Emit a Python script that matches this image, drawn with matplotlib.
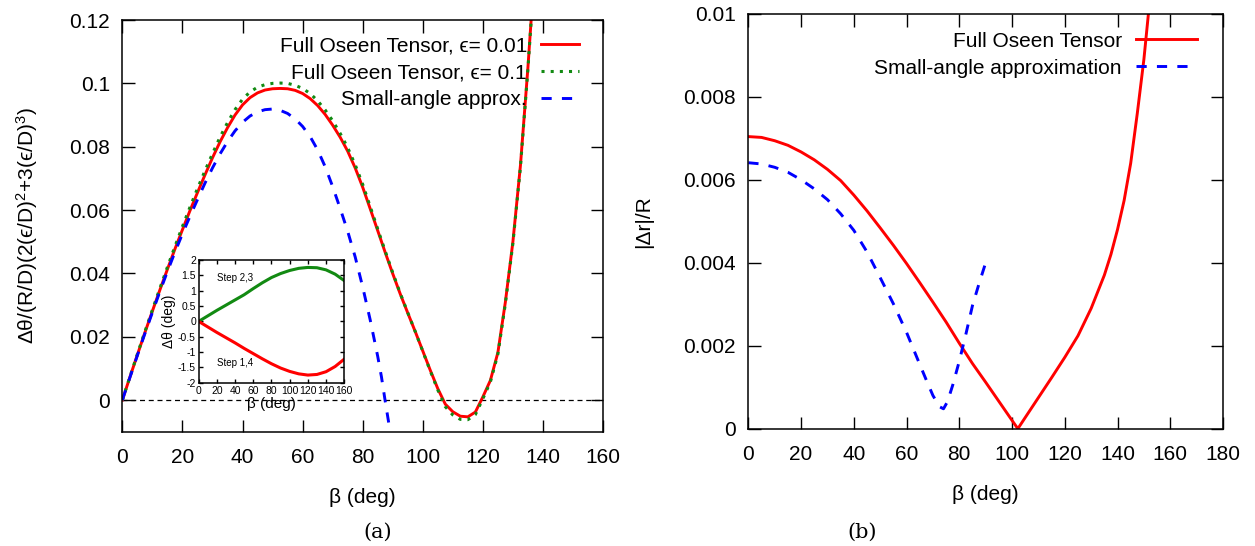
import matplotlib
matplotlib.use("Agg")
import matplotlib.pyplot as plt
from matplotlib.ticker import FuncFormatter, MultipleLocator

plt.rcParams["font.family"] = ["Liberation Sans", "DejaVu Sans"]
plt.rcParams["mathtext.fontset"] = "custom"
plt.rcParams["mathtext.rm"] = "Liberation Sans"
plt.rcParams["mathtext.it"] = "Liberation Sans:italic"

# (a) main panel: normalised rotation vs beta
beta_a = [0, 2.5, 5, 7.5, 10, 12.5, 15, 17.5, 20, 22.5, 25, 27.5, 30, 32.5, 35,
          37.5, 40, 42.5, 45, 47.5, 50, 52.5, 55, 57.5, 60, 62.5, 65, 67.5, 70,
          72.5, 75, 77.5, 80, 82.5, 85, 87.5, 90, 92.5, 95, 97.5, 100, 102.5,
          105, 107.5, 110, 112.5, 115, 117.5, 120, 122.5, 125, 127.5, 130,
          132.5, 135, 137]
full_001 = [0, 0.0072, 0.0143, 0.0213, 0.0281, 0.0348, 0.0413, 0.0477, 0.0538,
            0.0598, 0.0655, 0.0711, 0.0765, 0.0815, 0.0860, 0.0900, 0.0932,
            0.0955, 0.0970, 0.0979, 0.0983, 0.0984, 0.0983, 0.0978, 0.0968,
            0.0952, 0.0930, 0.0902, 0.0868, 0.0830, 0.0786, 0.0733, 0.0672,
            0.0604, 0.0535, 0.0466, 0.0399, 0.0335, 0.0275, 0.0216, 0.0155,
            0.0094, 0.0036, -0.0013, -0.0037, -0.0051, -0.0053, -0.0038,
            0.0010, 0.0062, 0.0150, 0.0310, 0.0500, 0.0740, 0.1050, 0.1330]
full_01 = [0, 0.0073, 0.0145, 0.0216, 0.0285, 0.0353, 0.0420, 0.0485, 0.0548,
           0.0609, 0.0668, 0.0724, 0.0778, 0.0830, 0.0876, 0.0917, 0.0950,
           0.0973, 0.0988, 0.0996, 0.1000, 0.1001, 0.1000, 0.0994, 0.0984,
           0.0968, 0.0945, 0.0916, 0.0882, 0.0842, 0.0797, 0.0743, 0.0681,
           0.0611, 0.0540, 0.0470, 0.0402, 0.0337, 0.0276, 0.0216, 0.0154,
           0.0092, 0.0032, -0.0021, -0.0047, -0.0061, -0.0062, -0.0046,
           0.0004, 0.0057, 0.0145, 0.0305, 0.0495, 0.0735, 0.1045, 0.1325]
beta_sa = [0, 2.5, 5, 7.5, 10, 12.5, 15, 17.5, 20, 22.5, 25, 27.5, 30, 32.5, 35,
           37.5, 40, 42.5, 45, 47.5, 50, 52.5, 55, 57.5, 60, 62.5, 65, 67.5, 70,
           72.5, 75, 77.5, 80, 82.5, 85, 86.25, 87.5, 88.75, 89.5]
small_a = [0, 0.0071, 0.0141, 0.0210, 0.0277, 0.0343, 0.0406, 0.0467, 0.0525,
           0.0580, 0.0633, 0.0685, 0.0733, 0.0777, 0.0816, 0.0850, 0.0877,
           0.0897, 0.0910, 0.0917, 0.0919, 0.0915, 0.0905, 0.0888, 0.0864,
           0.0832, 0.0790, 0.0737, 0.0674, 0.0605, 0.0533, 0.0452, 0.0357,
           0.0253, 0.0138, 0.0073, -0.0004, -0.0077, -0.0110]

# inset: step rotations
beta_in = [0, 10, 20, 30, 40, 50, 60, 70, 80, 90, 100, 110, 120, 130, 140, 150,
           160]
step23 = [0, 0.18, 0.36, 0.53, 0.70, 0.87, 1.07, 1.26, 1.43, 1.56, 1.66, 1.73,
          1.76, 1.75, 1.68, 1.54, 1.33]
step14 = [0, -0.18, -0.36, -0.53, -0.70, -0.88, -1.05, -1.22, -1.38, -1.52,
          -1.63, -1.71, -1.75, -1.73, -1.64, -1.47, -1.23]

# (b) |dr|/R vs beta
beta_b = [0, 5, 10, 15, 20, 25, 30, 35, 40, 45, 50, 55, 60, 65, 70, 75, 80, 85,
          90, 95, 100, 102.2, 105, 110, 115, 120, 125, 130, 135, 137.5, 140,
          142.5, 145, 147.5, 150, 152.5]
full_b = [0.00704, 0.00702, 0.00694, 0.00683, 0.00667, 0.00648, 0.00625,
          0.00598, 0.00563, 0.00525, 0.00484, 0.00442, 0.00398, 0.00352,
          0.00305, 0.00257, 0.00206, 0.00157, 0.00112, 0.00066, 0.0002, 0.0,
          0.00027, 0.00075, 0.00123, 0.00172, 0.00224, 0.0029, 0.0037, 0.0042,
          0.0048, 0.0055, 0.0064, 0.0076, 0.0089, 0.0105]
beta_bs = [0, 5, 10, 15, 20, 25, 30, 35, 40, 45, 50, 55, 60, 65, 67.5, 70, 72.5,
           74, 75.5, 77.5, 80, 82.5, 85, 87.5, 90]
small_b = [0.00641, 0.00638, 0.0063, 0.00618, 0.006, 0.00578, 0.00552, 0.00518,
           0.00478, 0.00426, 0.00364, 0.00301, 0.00232, 0.00155, 0.00117,
           0.0008, 0.00053, 0.00048, 0.00065, 0.00105, 0.00163, 0.00228,
           0.00297, 0.0035, 0.004]

RED = "#ff0000"
GREEN = "#128a12"
BLUE = "#0000ff"
FS = 15


def gfmt(v, pos):
    return "%g" % round(v, 6)


def style_axes(ax, fs=FS, length=9, xpad=12, ypad=9):
    ax.tick_params(direction="in", top=True, right=True, length=length,
                   width=1, labelsize=fs)
    ax.tick_params(axis="x", pad=xpad)
    ax.tick_params(axis="y", pad=ypad)
    for s in ax.spines.values():
        s.set_linewidth(1.1)
    ax.xaxis.set_major_formatter(FuncFormatter(gfmt))
    ax.yaxis.set_major_formatter(FuncFormatter(gfmt))


fig = plt.figure(figsize=(12.55, 5.46), dpi=100)

# ---- panel (a)
ax1 = fig.add_axes([0.0975, 0.2093, 0.383, 0.754])
ax1.axhline(0, color="black", lw=0.9, ls=(0, (4, 3)))
ax1.plot(beta_a, full_001, color=RED, lw=2.1, label="Full Oseen Tensor, ϵ= 0.01")
ax1.plot(beta_a, full_01, color=GREEN, lw=2.2, ls=(0, (1, 2.0)),
         label="Full Oseen Tensor, ϵ= 0.1")
ax1.plot(beta_sa, small_a, color=BLUE, lw=2.1, ls=(0, (3.5, 3.5)),
         label="Small-angle approx.")
ax1.set_xlim(0, 160)
ax1.set_ylim(-0.01, 0.12)
ax1.xaxis.set_major_locator(MultipleLocator(20))
ax1.yaxis.set_major_locator(MultipleLocator(0.02))
style_axes(ax1)
ax1.set_xlabel("β (deg)", fontsize=FS, labelpad=15)
ax1.set_ylabel(r"Δθ/(R/D)(2(ϵ/D)$^2$+3(ϵ/D)$^3$)", fontsize=FS, labelpad=21)
ax1.legend(loc="upper right", bbox_to_anchor=(0.95, 0.96), frameon=False,
           markerfirst=False, fontsize=FS, handlelength=1.8, handletextpad=0.7,
           borderpad=0, borderaxespad=0, labelspacing=0.38)

# inset
axi = fig.add_axes([0.1583, 0.299, 0.116, 0.2247])
axi.plot(beta_in, step23, color=GREEN, lw=2.2)
axi.plot(beta_in, step14, color=RED, lw=2.2)
axi.set_xlim(0, 160)
axi.set_ylim(-2, 2)
axi.xaxis.set_major_locator(MultipleLocator(20))
axi.yaxis.set_major_locator(MultipleLocator(0.5))
style_axes(axi, fs=7.5, length=3, xpad=2, ypad=2)
axi.text(20, 1.4, "Step 2,3", fontsize=7, va="center")
axi.text(20, -1.35, "Step 1,4", fontsize=7, va="center")
axi.set_xlabel("β (deg)", fontsize=11, labelpad=1)
axi.set_ylabel("Δθ (deg)", fontsize=10, labelpad=1)

# ---- panel (b)
ax2 = fig.add_axes([0.5963, 0.2148, 0.3782, 0.760])
ax2.plot(beta_b, full_b, color=RED, lw=2.1, label="Full Oseen Tensor")
ax2.plot(beta_bs, small_b, color=BLUE, lw=2.1, ls=(0, (3.5, 3.5)),
         label="Small-angle approximation")
ax2.set_xlim(0, 180)
ax2.set_ylim(0, 0.01)
ax2.xaxis.set_major_locator(MultipleLocator(20))
ax2.yaxis.set_major_locator(MultipleLocator(0.002))
style_axes(ax2)
ax2.set_xlabel("β (deg)", fontsize=FS, labelpad=15)
ax2.set_ylabel("|Δr|/R", fontsize=FS, labelpad=22)
ax2.legend(loc="upper right", bbox_to_anchor=(0.945, 0.957), frameon=False,
           markerfirst=False, fontsize=FS, handlelength=2.9, handletextpad=0.7,
           borderpad=0, borderaxespad=0, labelspacing=0.38)

fig.text(0.301, 0.026, "(a)", fontsize=15, family="DejaVu Serif", ha="center",
         va="center")
fig.text(0.687, 0.026, "(b)", fontsize=15, family="DejaVu Serif", ha="center",
         va="center")

fig.savefig("out.png", dpi=100)
